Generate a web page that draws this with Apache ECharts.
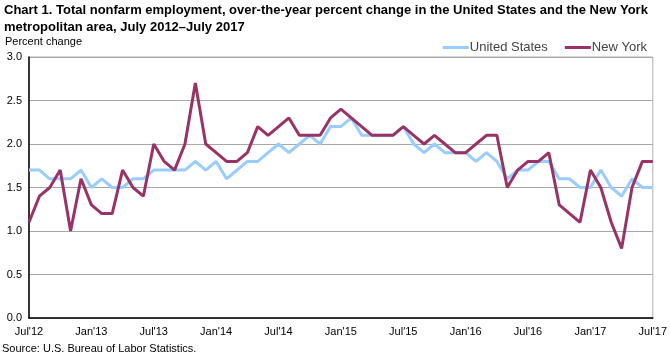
<!DOCTYPE html>
<html>
<head>
<meta charset="utf-8">
<script src="https://cdn.jsdelivr.net/npm/echarts@6/dist/echarts.min.js"></script>
<style>
html,body{margin:0;padding:0;background:#fff;}
#c{width:670px;height:356px;}
</style>
</head>
<body>
<div id="c"></div>
<script>
const months = [
"Jul'12","Aug'12","Sep'12","Oct'12","Nov'12","Dec'12",
"Jan'13","Feb'13","Mar'13","Apr'13","May'13","Jun'13",
"Jul'13","Aug'13","Sep'13","Oct'13","Nov'13","Dec'13",
"Jan'14","Feb'14","Mar'14","Apr'14","May'14","Jun'14",
"Jul'14","Aug'14","Sep'14","Oct'14","Nov'14","Dec'14",
"Jan'15","Feb'15","Mar'15","Apr'15","May'15","Jun'15",
"Jul'15","Aug'15","Sep'15","Oct'15","Nov'15","Dec'15",
"Jan'16","Feb'16","Mar'16","Apr'16","May'16","Jun'16",
"Jul'16","Aug'16","Sep'16","Oct'16","Nov'16","Dec'16",
"Jan'17","Feb'17","Mar'17","Apr'17","May'17","Jun'17",
"Jul'17"
];
const unitedStates = [
1.7,1.7,1.6,1.6,1.6,1.7,
1.5,1.6,1.5,1.5,1.6,1.6,
1.7,1.7,1.7,1.7,1.8,1.7,
1.8,1.6,1.7,1.8,1.8,1.9,
2.0,1.9,2.0,2.1,2.0,2.2,
2.2,2.3,2.1,2.1,2.1,2.1,
2.2,2.0,1.9,2.0,1.9,1.9,
1.9,1.8,1.9,1.8,1.6,1.7,
1.7,1.8,1.8,1.6,1.6,1.5,
1.5,1.7,1.5,1.4,1.6,1.5,
1.5
];
const newYork = [
1.1,1.4,1.5,1.7,1.0,1.6,
1.3,1.2,1.2,1.7,1.5,1.4,
2.0,1.8,1.7,2.0,2.7,2.0,
1.9,1.8,1.8,1.9,2.2,2.1,
2.2,2.3,2.1,2.1,2.1,2.3,
2.4,2.3,2.2,2.1,2.1,2.1,
2.2,2.1,2.0,2.1,2.0,1.9,
1.9,2.0,2.1,2.1,1.5,1.7,
1.8,1.8,1.9,1.3,1.2,1.1,
1.7,1.5,1.1,0.8,1.5,1.8,
1.8
];
const yTicks = [0.0,0.5,1.0,1.5,2.0,2.5,3.0];

const chart = echarts.init(document.getElementById('c'), null, {renderer:'canvas'});
const FONT = '"Liberation Sans", Arial, sans-serif';
chart.setOption({
  animation:false,
  backgroundColor:'#ffffff',
  textStyle:{fontFamily:FONT},
  title:[
    {text:"Chart 1. Total nonfarm employment, over-the-year percent change in the United States and the New York\nmetropolitan area, July 2012\u2013July 2017",
     left:4, top:2, padding:0,
     textStyle:{fontFamily:FONT,fontSize:13,fontWeight:'bold',color:'#000',lineHeight:17}},
    {text:"Percent change", left:5, top:36, padding:0,
     textStyle:{fontFamily:FONT,fontSize:11,fontWeight:'normal',color:'#000'}},
    {text:"Source: U.S. Bureau of Labor Statistics.", left:2, top:343, padding:0,
     textStyle:{fontFamily:FONT,fontSize:11,fontWeight:'normal',color:'#000'}}
  ],
  legend:{
    right:23, top:41, padding:0,
    itemWidth:26, itemHeight:3, itemGap:17,
    icon:'rect',
    textStyle:{fontFamily:FONT,fontSize:13,color:'#444',padding:[0,0,0,-4]},
    data:['United States','New York']
  },
  grid:{left:29,right:14,top:57,bottom:38,show:true,borderColor:'#b0b0b0',borderWidth:1},
  xAxis:{
    type:'category',
    data:months,
    boundaryGap:false,
    axisLine:{show:true,lineStyle:{color:'#000',width:1.5}},
    axisTick:{show:false},
    axisLabel:{interval:5,color:'#000',fontSize:11,fontFamily:FONT,margin:8},
    splitLine:{show:false}
  },
  yAxis:{
    type:'value',
    min:0,max:3,interval:0.5,
    axisLine:{show:true,lineStyle:{color:'#000',width:1.5}},
    axisTick:{show:false},
    axisLabel:{color:'#000',fontSize:11,fontFamily:FONT,margin:7,
      formatter:function(v){return v.toFixed(1);}},
    splitLine:{show:true,lineStyle:{color:'#a8a8a8',width:1}}
  },
  series:[
    {name:'United States',type:'line',data:unitedStates,showSymbol:false,symbol:'none',
     lineStyle:{color:'#99ccff',width:3},itemStyle:{color:'#99ccff'},z:2},
    {name:'New York',type:'line',data:newYork,showSymbol:false,symbol:'none',
     lineStyle:{color:'#993366',width:3},itemStyle:{color:'#993366'},z:3}
  ]
});
</script>
</body>
</html>
